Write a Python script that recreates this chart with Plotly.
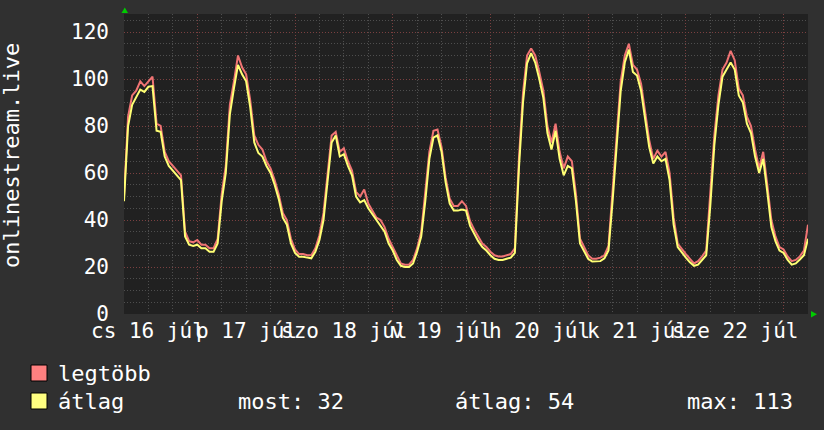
import plotly.graph_objects as go

# ---- data (hours from start, hourly samples) ----
hours = list(range(169))
atlag = [
    48, 80, 89, 92, 95.5, 94.5, 96.7, 97, 78, 77.5,
    67, 63, 61, 59, 57, 33, 29.5, 29, 29.5, 28,
    28, 26.5, 26.5, 30, 48, 60, 85, 96, 106, 102,
    99, 88, 73, 68.5, 67, 63, 60, 55, 49, 41,
    38, 30, 26, 24.4, 24.4, 24, 23.7, 26.5, 31.5, 40,
    57, 73, 76, 67, 68, 63, 59, 50, 47.5, 48.5,
    45, 42.5, 39.5, 37.5, 35, 30, 27, 23, 20.5, 20,
    20, 21.5, 26.5, 33, 48, 66, 75, 76, 69, 56,
    47, 44, 44, 44.5, 44, 37.5, 34, 31, 28.5, 27,
    25, 23.5, 23, 23, 23.5, 24, 26, 62, 90, 106.7,
    111, 107, 100, 92, 77, 70, 78, 66, 59, 63,
    62, 48, 30, 27, 23.5, 22.3, 22.3, 22.5, 23.7, 27,
    48, 70, 95, 107, 112.5, 103, 101.5, 95, 82, 71,
    64, 67, 65, 66, 57, 38, 28.5, 26, 24, 22,
    20.5, 21, 23, 25, 46, 72, 89, 101, 104, 107,
    104, 93, 90, 81, 77, 67, 60, 66, 52, 37,
    31, 27, 26, 23, 21, 21.5, 23.2, 25, 32,
]
legtobb = [
    50, 84, 93, 95, 99, 97, 99, 101, 81, 80,
    69, 65, 63, 61, 59, 35, 31, 30.5, 31.5, 29.5,
    29.5, 28, 28, 32, 51, 63, 89, 99, 110, 105,
    102, 91, 76, 72, 70, 65, 62, 57, 51, 43,
    40, 32, 27.5, 25.5, 25.5, 25, 25, 28, 33.5, 43,
    60, 76, 77.5, 69, 70.5, 65, 61, 52, 50, 53,
    47, 44, 41, 40, 37, 32, 28.5, 24.5, 21.5, 21,
    21, 23, 28, 35, 51, 69, 78, 78.5, 71, 58,
    49, 46, 46, 48, 46, 39.5, 36, 33, 30, 28.5,
    26.5, 25, 24.5, 24.5, 25, 25.5, 28, 66, 94, 110,
    113, 110, 103, 95, 80, 73, 81, 69, 62, 67,
    65, 51, 32, 28.5, 25, 23.5, 23.5, 24, 25, 29,
    52, 74, 99, 110, 115, 106, 104, 98, 85, 74,
    66, 69.5, 67, 69, 60, 41, 30, 27.5, 25.5, 23.5,
    21.5, 22.5, 24.5, 27, 50, 76, 93, 104, 107, 112,
    108, 96, 93, 84, 80, 70, 62, 69, 55, 40,
    33, 28.5, 27.5, 24.5, 22.5, 23, 24.5, 27, 38,
]
day_labels = ["cs 16 júl", "p 17 júl", "szo 18 júl", "v 19 júl",
              "h 20 júl", "k 21 júl", "sze 22 júl"]
day_label_hours = [6, 30, 54, 78, 102, 126, 150]
series_names = ["legtöbb", "átlag"]
stat_labels = ["most: 32", "átlag: 54", "max: 113"]
y_title = "onlinestream.live"

# ---- layout geometry ----
W, H = 824, 430
L, R, T, B = 124, 16, 14, 116
PW, PH = W - L - R, H - T - B
FONT = "DejaVu Sans Mono"
BG = "#303030"
PLOT_BG = "#212121"
PINK = "#f07474"
YELLOW = "#ffff74"


def px(xp):
    return (xp - L) / PW


def py(yp):
    return (H - B - yp) / PH


fig = go.Figure()
fig.add_trace(go.Scatter(x=hours, y=legtobb, mode="lines",
                         line=dict(color=PINK, width=2), name=series_names[0],
                         showlegend=False))
fig.add_trace(go.Scatter(x=hours, y=atlag, mode="lines",
                         line=dict(color=YELLOW, width=2), name=series_names[1],
                         showlegend=False))

annotations = []
for h, lab in zip(day_label_hours, day_labels):
    annotations.append(dict(x=h, xref="x", y=py(331), yref="paper", text=lab,
                            showarrow=False, xanchor="center", yanchor="middle",
                            font=dict(family=FONT, size=21, color="white")))

annotations.append(dict(x=px(11), xref="paper", y=py(156), yref="paper",
                        text=y_title, textangle=-90, showarrow=False,
                        xanchor="center", yanchor="middle",
                        font=dict(family=FONT, size=22, color="white")))

legend_rows = [(373, "#ff8080", series_names[0]),
               (401, "#ffff80", series_names[1])]
shapes = []
for yc, col, name in legend_rows:
    shapes.append(dict(type="rect", xref="paper", yref="paper",
                       x0=px(31), x1=px(47), y0=py(yc - 8), y1=py(yc + 8),
                       fillcolor=col, line=dict(color="black", width=1)))
    annotations.append(dict(x=px(56), xref="paper", y=py(yc), yref="paper",
                            text=name, showarrow=False, xanchor="left",
                            yanchor="middle",
                            font=dict(family=FONT, size=22, color="white")))

for xs, lab in zip([236, 453, 685], stat_labels):
    annotations.append(dict(x=px(xs), xref="paper", y=py(401), yref="paper",
                            text=lab, showarrow=False, xanchor="left",
                            yanchor="middle",
                            font=dict(family=FONT, size=22, color="white")))

# green axis arrows
shapes.append(dict(type="path", xref="paper", yref="paper",
                   path=f"M {px(121.5)},{py(13)} L {px(128)},{py(13)} L {px(124.8)},{py(7.5)} Z",
                   fillcolor="#00cc00", line=dict(width=0)))
shapes.append(dict(type="path", xref="paper", yref="paper",
                   path=f"M {px(811)},{py(311)} L {px(811)},{py(317.5)} L {px(817)},{py(314.3)} Z",
                   fillcolor="#00cc00", line=dict(width=0)))

MINOR_GRID = "#4e4e4e"
MAJOR_GRID = "#7a4040"

fig.update_layout(
    width=W, height=H,
    margin=dict(l=L, r=R, t=T, b=B, pad=0),
    paper_bgcolor=BG, plot_bgcolor=PLOT_BG,
    showlegend=False,
    annotations=annotations, shapes=shapes,
    font=dict(family=FONT, color="white"),
    xaxis=dict(range=[0, 168], showticklabels=False, ticks="",
               tick0=18, dtick=24, showgrid=True, gridcolor=MAJOR_GRID,
               griddash="1px,2px", gridwidth=1, zeroline=False, showline=False,
               minor=dict(tick0=0, dtick=6, showgrid=True, gridcolor=MINOR_GRID,
                          griddash="1px,2px", gridwidth=1)),
    yaxis=dict(range=[0, 127.66], tick0=0, dtick=20, showgrid=True,
               gridcolor=MAJOR_GRID, griddash="1px,2px", gridwidth=1,
               zeroline=False, showline=False, ticks="",
               ticklabelstandoff=14,
               tickfont=dict(family=FONT, size=21, color="white"),
               minor=dict(tick0=0, dtick=5, showgrid=True, gridcolor=MINOR_GRID,
                          griddash="1px,2px", gridwidth=1)),
)

fig.write_html("out.html")
